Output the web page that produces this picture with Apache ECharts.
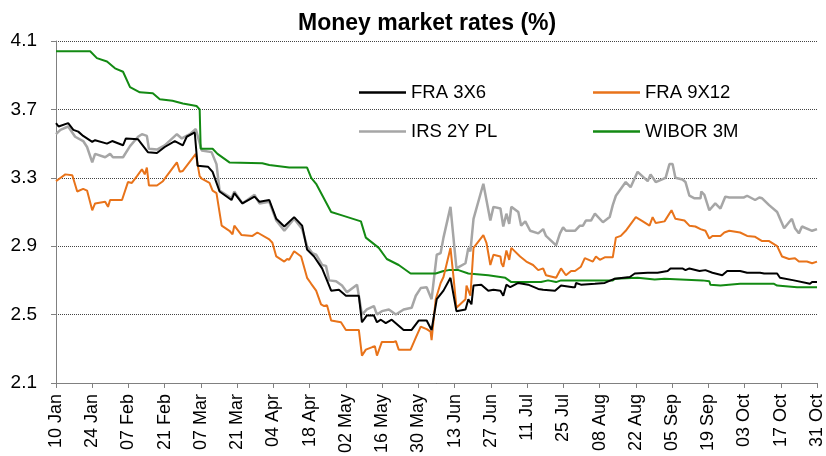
<!DOCTYPE html>
<html>
<head>
<meta charset="utf-8">
<script src="https://cdn.jsdelivr.net/npm/echarts@6/dist/echarts.min.js"></script>
<style>
  html, body { margin: 0; padding: 0; background: #fff; }
  #chart { width: 826px; height: 456px; }
</style>
</head>
<body>
<div id="chart"></div>
<script>
// x = days since 10 Jan, tick every 14 days
const tickLabels = ['10 Jan', '24 Jan', '07 Feb', '21 Feb', '07 Mar', '21 Mar', '04 Apr', '18 Apr',
  '02 May', '16 May', '30 May', '13 Jun', '27 Jun', '11 Jul', '25 Jul', '08 Aug', '22 Aug',
  '05 Sep', '19 Sep', '03 Oct', '17 Oct', '31 Oct'];

const seriesNames = ['FRA 3X6', 'FRA 9X12', 'IRS 2Y PL', 'WIBOR 3M'];

const fra3x6 = [[0,3.62],[1,3.60],[4.7,3.62],[6.7,3.58],[8.6,3.57],[10.5,3.545],[14,3.51],[15.1,3.52],[19.7,3.50],[21.7,3.515],
  [25.9,3.49],[27,3.53],[31.7,3.525],[35.5,3.45],[39,3.445],[42,3.48],[45.9,3.515],[49,3.49],[50.5,3.54],[53.6,3.565],
  [54.3,3.57],[54.7,3.37],[58.7,3.365],[60.5,3.335],[63.2,3.22],[67.8,3.17],[68.9,3.21],[72,3.15],[76.7,3.19],[78.6,3.16],
  [82.4,3.17],[85.1,3.06],[88.2,3.015],[92,3.07],[95.1,3.02],[97,2.88],[99.7,2.84],[102.8,2.77],[104.7,2.70],[106.3,2.64],
  [109.3,2.645],[112,2.61],[117,2.61],[118.2,2.455],[120.1,2.495],[122.8,2.495],[124,2.455],[125.5,2.47],[127.4,2.45],[129.7,2.47],
  [134.3,2.41],[137.4,2.41],[140.1,2.465],[143.2,2.465],[145.1,2.41],[147.1,2.59],[149.7,2.64],[152.4,2.715],[154.7,2.52],[158.2,2.53],
  [159.3,2.59],[160.5,2.56],[161.3,2.67],[164.3,2.675],[167,2.64],[169,2.645],[171.7,2.64],[172.8,2.61],[174,2.675],[175.5,2.66],
  [178.6,2.685],[182.4,2.675],[186.3,2.65],[188.2,2.645],[192.8,2.64],[195.1,2.67],[199.7,2.66],[200.5,2.66],[200.9,2.685],[202.8,2.675],
  [208.2,2.68],[212,2.685],[215.9,2.71],[221.7,2.72],[223.6,2.74],[228.6,2.745],[232.4,2.745],[236.3,2.755],[237.4,2.77],[242,2.77],
  [243.2,2.76],[244.7,2.77],[248.6,2.755],[250.9,2.76],[253.6,2.745],[257.4,2.73],[259.3,2.755],[264.3,2.755],[267,2.745],[272,2.745],
  [273.6,2.74],[278.6,2.74],[279.7,2.715],[285.1,2.70],[291.3,2.68],[292.1,2.69],[294,2.69]];

const fra9x12 = [[0,3.28],[0.9,3.29],[3.6,3.32],[6.3,3.315],[8.2,3.22],[10.5,3.235],[12,3.225],[14,3.11],[15.1,3.15],[19,3.16],
  [20.1,3.13],[20.9,3.17],[25.5,3.17],[27.8,3.275],[29.3,3.27],[31.3,3.31],[33.2,3.35],[34.3,3.32],[35.1,3.36],[35.9,3.255],
  [39,3.255],[41.3,3.28],[46.7,3.39],[47.8,3.335],[49,3.34],[54,3.44],[55.5,3.31],[56.3,3.295],[59.3,3.27],[60.5,3.225],
  [62,3.21],[64,3.02],[67,2.99],[68.2,2.97],[68.9,3.02],[71.7,2.965],[75.9,2.96],[77.8,2.98],[82.4,2.94],[83.6,2.92],
  [85.1,2.84],[88.2,2.81],[89.3,2.825],[90.1,2.82],[92,2.87],[94.7,2.84],[97,2.715],[98.6,2.68],[100.5,2.64],[102.4,2.56],
  [103.6,2.55],[104.7,2.555],[106.3,2.465],[110.1,2.455],[112,2.41],[117,2.41],[118.2,2.26],[119.7,2.295],[122.2,2.31],[123.2,2.315],
  [124,2.26],[125.9,2.34],[130.5,2.34],[131.3,2.345],[132.4,2.295],[137,2.295],[139,2.365],[140.9,2.43],[143.2,2.415],[144.7,2.40],
  [145.1,2.35],[146.7,2.59],[148.6,2.685],[149.7,2.72],[150.5,2.77],[152.4,2.89],[153.6,2.715],[154.7,2.54],[158.2,2.59],[158.6,2.67],
  [160.1,2.61],[161.3,2.89],[165.1,2.965],[166.3,2.92],[167.8,2.79],[169,2.85],[171.7,2.84],[172.1,2.80],[172.8,2.78],[174,2.875],
  [175.1,2.82],[175.9,2.89],[179.3,2.84],[181.7,2.81],[184.3,2.79],[186.3,2.76],[188.2,2.77],[189.3,2.73],[193.2,2.715],[195.1,2.77],
  [197,2.73],[199,2.755],[200.5,2.755],[200.9,2.745],[202.8,2.78],[204.3,2.83],[207.4,2.81],[208.6,2.84],[210.1,2.82],[212,2.835],
  [215.1,2.835],[216.3,2.95],[218.2,2.96],[220.1,2.99],[224,3.07],[226.7,3.045],[229.3,3.02],[230.5,3.07],[231.7,3.035],[235.1,3.045],
  [237.8,3.11],[239.3,3.06],[242.8,3.05],[244.7,3.02],[247,3.015],[249,3.00],[249.7,2.99],[250.9,2.99],[252.4,2.945],[253.6,2.96],
  [256.7,2.96],[258.2,2.98],[260.1,2.99],[264.3,2.98],[267,2.96],[270.1,2.955],[272.8,2.93],[275.5,2.93],[278.6,2.90],[280.5,2.84],
  [283.2,2.825],[285.5,2.83],[287,2.81],[290.1,2.81],[292.1,2.80],[294,2.81]];

const irs2y = [[0,3.555],[1.7,3.58],[4.7,3.60],[7.4,3.54],[10.5,3.515],[12,3.48],[14,3.39],[15.1,3.44],[19,3.42],[20.9,3.44],
  [22,3.42],[25.9,3.42],[28.6,3.485],[31.7,3.54],[33.2,3.555],[35.1,3.545],[35.9,3.47],[39,3.465],[42,3.49],[46.7,3.555],
  [48.6,3.53],[49,3.54],[51.7,3.555],[54,3.585],[56.3,3.46],[60.1,3.45],[62,3.38],[63.2,3.225],[67.8,3.18],[68.9,3.22],
  [72,3.15],[76.7,3.20],[78.6,3.15],[82.4,3.16],[85.1,3.05],[88.2,2.99],[92,3.06],[95.1,3.00],[97,2.90],[99,2.86],
  [100.5,2.85],[102.8,2.79],[104.3,2.785],[105.5,2.70],[108.2,2.695],[110.5,2.67],[112.4,2.63],[116.3,2.675],[117,2.675],[118.2,2.50],
  [120.1,2.53],[122.8,2.55],[124,2.50],[125.9,2.52],[128.6,2.53],[131.3,2.50],[134.3,2.53],[137.4,2.54],[139,2.61],[140.9,2.655],
  [143.2,2.66],[145.1,2.59],[147.1,2.85],[148.6,2.86],[149.7,2.95],[152.4,3.13],[154.7,2.77],[158.2,2.80],[159.3,2.89],[160.1,2.87],
  [161.3,3.06],[165.1,3.265],[167.8,3.05],[169,3.13],[171.7,3.12],[172.8,3.015],[174,3.09],[175.1,3.03],[175.9,3.13],[178.6,3.10],
  [179.7,3.02],[181.3,3.045],[183.2,2.99],[186.3,2.975],[188.2,3.00],[189.3,2.96],[193.2,2.905],[194.7,2.975],[195.9,3.01],[197,2.99],
  [200.5,2.99],[202.4,3.02],[203.6,3.02],[204.7,3.05],[206.7,3.05],[208.2,3.09],[211.3,3.04],[213.9,3.07],[215.1,3.14],[216.3,3.195],
  [220.1,3.275],[222,3.245],[224.7,3.335],[228.6,3.28],[229.7,3.32],[231.7,3.275],[235.5,3.30],[237,3.38],[238.2,3.38],[239.3,3.30],
  [242,3.29],[243.2,3.275],[244.7,3.195],[246.7,3.18],[249,3.18],[249.3,3.22],[250.5,3.20],[252.4,3.11],[254.7,3.15],[256.7,3.12],
  [258.6,3.19],[260.1,3.185],[265.8,3.185],[267,3.195],[270.1,3.17],[271.7,3.185],[272.8,3.18],[275.5,3.14],[278.6,3.10],[281.3,3.005],
  [284.3,3.06],[285.5,3.005],[287,2.975],[288.2,3.015],[292.1,2.99],[294,3.00]];

const wibor3m = [[0,4.04],[13.2,4.04],[15.8,4.00],[19.7,3.98],[22.8,3.94],[25.9,3.92],[28.6,3.83],[32.4,3.80],[37.4,3.795],[40.1,3.76],
  [45,3.75],[49,3.735],[54.3,3.72],[55.5,3.70],[55.9,3.47],[60.5,3.47],[62.4,3.44],[67,3.39],[79.7,3.385],[82.4,3.375],
  [90.1,3.36],[97,3.36],[98.6,3.30],[100.5,3.265],[106.3,3.10],[110.5,3.08],[117.8,3.045],[119.7,2.95],[124.7,2.89],[127.8,2.825],
  [132.4,2.79],[137,2.74],[146.7,2.74],[149.7,2.755],[151.7,2.76],[155.5,2.76],[159.3,2.74],[167,2.73],[173.6,2.715],[175.9,2.69],
  [187.4,2.69],[190.1,2.70],[193.2,2.69],[195.1,2.70],[215.1,2.70],[216,2.71],[224.7,2.715],[231.3,2.705],[235.1,2.71],[249.7,2.70],
  [252.4,2.695],[252.8,2.675],[256.7,2.67],[264.3,2.68],[277.4,2.68],[278.6,2.67],[286.3,2.66],[294,2.66]];

var font = "'Liberation Sans', Arial, sans-serif";
var colors = ['#000000', '#E8731A', '#A6A6A6', '#138A13'];

var chart = echarts.init(document.getElementById('chart'), null, { renderer: 'canvas' });

// one legend per entry so each can sit where the original has it
function legendAt(i, left, top) {
  return {
    data: [seriesNames[i]],
    left: left,
    top: top,
    icon: 'rect',
    itemWidth: 47,
    itemHeight: 2.5,
    itemGap: 0,
    textStyle: { fontFamily: font, fontSize: 18.5, color: '#000' }
  };
}

function lineSeries(i, data, width) {
  return {
    name: seriesNames[i],
    type: 'line',
    data: data,
    symbol: 'none',
    animation: false,
    lineStyle: { color: colors[i], width: width },
    itemStyle: { color: colors[i] }
  };
}

var option = {
  animation: false,
  title: {
    text: 'Money market rates (%)',
    left: 293,
    top: 7,
    textStyle: { fontFamily: font, fontSize: 23, fontWeight: 'bold', color: '#000' }
  },
  legend: [
    legendAt(0, 354, 78),
    legendAt(1, 588, 78),
    legendAt(2, 354, 117),
    legendAt(3, 588, 117)
  ],
  grid: { left: 56, right: 6, top: 41, bottom: 70 },
  xAxis: {
    type: 'value',
    min: 0,
    max: 294,
    interval: 14,
    axisLine: { show: true, lineStyle: { color: '#808080', width: 1 } },
    axisTick: { show: true, length: 5, lineStyle: { color: '#808080' } },
    splitLine: { show: false },
    axisLabel: {
      rotate: 90,
      margin: 11,
      fontFamily: font,
      fontSize: 18,
      color: '#000',
      formatter: function (v) { return tickLabels[Math.round(v / 14)]; }
    }
  },
  yAxis: {
    type: 'value',
    min: 2.1,
    max: 4.1,
    interval: 0.4,
    axisLine: { show: true, lineStyle: { color: '#808080', width: 1 } },
    axisTick: { show: true, length: 5, lineStyle: { color: '#808080' } },
    splitLine: { show: true, lineStyle: { color: '#444', type: [1, 1], width: 1 } },
    axisLabel: {
      margin: 19,
      fontFamily: font,
      fontSize: 19,
      color: '#000',
      formatter: function (v) { return v.toFixed(1); }
    }
  },
  // drawing order: grey, green, orange, black on top
  series: [
    lineSeries(2, irs2y, 2.5),
    lineSeries(3, wibor3m, 2),
    lineSeries(1, fra9x12, 2),
    lineSeries(0, fra3x6, 2)
  ]
};

chart.setOption(option);
</script>
</body>
</html>
